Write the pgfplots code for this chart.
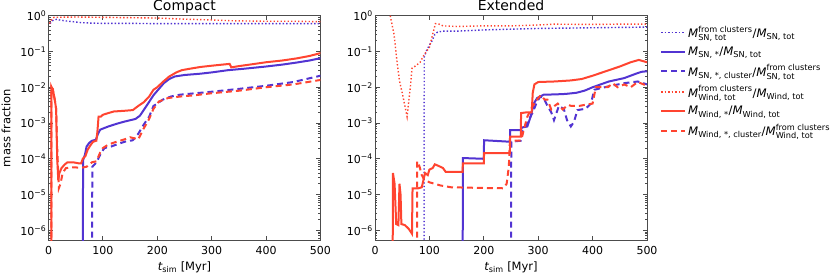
\documentclass[border=0pt]{standalone}
\usepackage{fontspec}
\setmainfont{DejaVu Sans}
\usepackage{amsmath}
\usepackage{pgfplots}
\pgfplotsset{compat=1.18}
\definecolor{cblue}{RGB}{82,52,210}
\definecolor{cred}{RGB}{255,68,48}
\newcommand{\Mi}{\textit{M}}
\pgfplotsset{every axis title/.style={font=\fontsize{14}{16}\selectfont, at={(axis description cs:0.5,1.021)}, anchor=base}}
\tikzset{
  sdot/.style={line width=1.4pt, dash pattern=on 1.4pt off 2.1pt},
  ssol/.style={line width=2pt},
  sdash/.style={line width=2pt, dash pattern=on 6pt off 4pt},
}
\begin{document}
\begin{tikzpicture}
\useasboundingbox (0,0) rectangle (830pt,273pt);
% ---------------- Compact ----------------
\begin{axis}[at={(48.5pt,32.5pt)}, anchor=south west, title={Compact},
    scale only axis, width=272pt, height=224.8pt,
    ymode=log, xmin=0, xmax=500, ymin=5.2e-7, ymax=1,
    xtick={0,100,200,300,400,500},
    ytick={1e-6,1e-5,1e-4,1e-3,1e-2,1e-1,1},
    yticklabels={10\textsuperscript{−6},10\textsuperscript{−5},10\textsuperscript{−4},10\textsuperscript{−3},10\textsuperscript{−2},10\textsuperscript{−1},10\textsuperscript{0}},
    minor ytick={6e-7,7e-7,8e-7,9e-7,2e-6,3e-6,4e-6,5e-6,6e-6,7e-6,8e-6,9e-6,2e-5,3e-5,4e-5,5e-5,6e-5,7e-5,8e-5,9e-5,2e-4,3e-4,4e-4,5e-4,6e-4,7e-4,8e-4,9e-4,2e-3,3e-3,4e-3,5e-3,6e-3,7e-3,8e-3,9e-3,2e-2,3e-2,4e-2,5e-2,6e-2,7e-2,8e-2,9e-2,2e-1,3e-1,4e-1,5e-1,6e-1,7e-1,8e-1,9e-1},
    tick align=inside,
    major tick length=4.5pt, minor tick length=2.3pt,
    axis line style={black!70, line width=1pt},
    tick style={black!70, line width=0.8pt},
    /pgf/number format/assume math mode=true,
    tick label style={font=\fontsize{11}{13}\selectfont},
    xticklabel style={anchor=base, yshift=-13.5pt},
    yticklabel style={anchor=east, inner sep=0pt, xshift=-2pt},
    label style={font=\fontsize{11.5}{13}\selectfont},
    xlabel={$\textit{t}_{\text{sim}}$ [Myr]},
    xlabel style={at={(axis description cs:0.5,-0.118)}, anchor=center},
    ylabel={mass fraction},
    ylabel style={at={(axis description cs:-0.156,0.5)}, anchor=center}]
\addplot[cblue, sdot] coordinates {(3,0.6) (6,0.7) (10,0.77) (15,0.79) (20,0.76) (30,0.72) (45,0.68) (60,0.64) (80,0.62) (100,0.61) (150,0.61) (200,0.6) (250,0.6) (300,0.6) (350,0.6) (400,0.6) (450,0.6) (500,0.6)};
\addplot[cblue, ssol] coordinates {(63,1e-9) (63.5,9e-5) (67,1.3e-4) (70,2.2e-4) (75,2.8e-4) (80,3.2e-4) (87,3.4e-4) (91,5e-4) (95,6.5e-4) (100,7e-4) (110,8e-4) (125,9.5e-4) (140,1.1e-3) (160,1.3e-3) (168,1.6e-3) (175,2.3e-3) (183,3.5e-3) (193,6e-3) (203,9e-3) (212,1.3e-2) (222,1.7e-2) (232,2e-2) (250,2.2e-2) (280,2.4e-2) (300,2.6e-2) (330,3e-2) (360,3.3e-2) (400,3.8e-2) (430,4.3e-2) (456,4.9e-2) (480,5.6e-2) (500,6.5e-2)};
\addplot[cblue, sdash] coordinates {(80,1e-9) (80.5,6e-5) (85,7e-5) (90,9e-5) (97,1.5e-4) (103,2e-4) (115,2.2e-4) (125,2.5e-4) (140,3e-4) (155,3.3e-4) (165,5e-4) (175,9e-4) (185,1.5e-3) (193,3e-3) (200,3.5e-3) (210,4.5e-3) (225,5.5e-3) (242,6.2e-3) (270,6.8e-3) (300,7.5e-3) (350,9e-3) (400,1.1e-2) (450,1.4e-2) (500,2.1e-2)};
\addplot[cred, sdot] coordinates {(2,0.6) (6,0.8) (10,0.9) (50,0.92) (100,0.9) (150,0.88) (200,0.86) (250,0.8) (300,0.76) (340,0.72) (400,0.7) (450,0.7) (500,0.68)};
\addplot[cred, ssol] coordinates {(5,1e-9) (5.5,1e-2) (8,9e-3) (10,6e-3) (12,4e-3) (14,2.5e-3) (16,1e-4) (18,2.5e-5) (20,4e-5) (24,5.5e-5) (30,7e-5) (35,8e-5) (45,8e-5) (55,7.5e-5) (60,7.5e-5) (63,1e-4) (68,1.2e-4) (72,1.8e-4) (78,2.5e-4) (82,3e-4) (88,3.2e-4) (90,6e-4) (92,1.5e-3) (96,1.5e-3) (100,1.7e-3) (110,1.9e-3) (120,2.1e-3) (140,2.2e-3) (155,2.3e-3) (165,3e-3) (175,3.8e-3) (185,5.5e-3) (193,8.5e-3) (200,1e-2) (210,1.4e-2) (222,2e-2) (235,2.6e-2) (245,3e-2) (260,3.3e-2) (280,3.7e-2) (300,4e-2) (320,4.3e-2) (333,4.5e-2) (336,3.6e-2) (350,3.9e-2) (370,4.3e-2) (400,5e-2) (430,5.6e-2) (456,6.4e-2) (480,7.5e-2) (500,9e-2)};
\addplot[cred, sdash] coordinates {(5,1e-9) (5.5,1e-2) (8,8e-3) (11,5e-3) (14,2.5e-3) (16,2e-4) (19,1.5e-5) (22,2e-5) (26,4e-5) (32,5.5e-5) (45,5.8e-5) (60,5.6e-5) (70,6e-5) (80,8e-5) (88,8.5e-5) (95,1.5e-4) (100,2e-4) (110,2.5e-4) (125,3e-4) (140,3.5e-4) (150,4e-4) (165,3.5e-4) (175,7e-4) (185,1.3e-3) (193,2.5e-3) (203,4e-3) (220,5e-3) (242,5.5e-3) (270,6e-3) (300,6.8e-3) (350,8e-3) (400,1e-2) (450,1.2e-2) (500,1.6e-2)};
\end{axis}
% ---------------- Extended ----------------
\begin{axis}[at={(375pt,32.5pt)}, anchor=south west, title={Extended},
    scale only axis, width=272pt, height=224.8pt,
    ymode=log, xmin=0, xmax=500, ymin=5.2e-7, ymax=1,
    xtick={0,100,200,300,400,500},
    ytick={1e-6,1e-5,1e-4,1e-3,1e-2,1e-1,1},
    yticklabels={10\textsuperscript{−6},10\textsuperscript{−5},10\textsuperscript{−4},10\textsuperscript{−3},10\textsuperscript{−2},10\textsuperscript{−1},10\textsuperscript{0}},
    minor ytick={6e-7,7e-7,8e-7,9e-7,2e-6,3e-6,4e-6,5e-6,6e-6,7e-6,8e-6,9e-6,2e-5,3e-5,4e-5,5e-5,6e-5,7e-5,8e-5,9e-5,2e-4,3e-4,4e-4,5e-4,6e-4,7e-4,8e-4,9e-4,2e-3,3e-3,4e-3,5e-3,6e-3,7e-3,8e-3,9e-3,2e-2,3e-2,4e-2,5e-2,6e-2,7e-2,8e-2,9e-2,2e-1,3e-1,4e-1,5e-1,6e-1,7e-1,8e-1,9e-1},
    tick align=inside,
    major tick length=4.5pt, minor tick length=2.3pt,
    axis line style={black!70, line width=1pt},
    tick style={black!70, line width=0.8pt},
    /pgf/number format/assume math mode=true,
    tick label style={font=\fontsize{11}{13}\selectfont},
    xticklabel style={anchor=base, yshift=-13.5pt},
    yticklabel style={anchor=east, inner sep=0pt, xshift=-2pt},
    label style={font=\fontsize{11.5}{13}\selectfont},
    xlabel={$\textit{t}_{\text{sim}}$ [Myr]},
    xlabel style={at={(axis description cs:0.5,-0.118)}, anchor=center},
    legend cell align=left,
    legend image code/.code={\draw[#1] (0pt,0pt) -- (17pt,0pt); \path (0pt,0pt) -- (24pt,0pt);},
    legend style={draw=none, fill=none, at={(axis description cs:1,1)}, anchor=north west,
      xshift=11pt, yshift=-6pt, font=\fontsize{11.7}{14}\selectfont, row sep=3.8pt,
      inner sep=2pt}]
\addplot[cblue, sdot] coordinates {(90,1e-9) (90.5,0.07) (94,0.1) (100,0.15) (105,0.2) (110,0.3) (115,0.35) (125,0.37) (150,0.37) (200,0.4) (250,0.42) (300,0.44) (350,0.45) (400,0.46) (450,0.47) (500,0.48)};
\addlegendentry{$\Mi^{\text{from clusters}}_{\text{SN, tot}}\text{/}\Mi_{\text{SN, tot}}$}
\addplot[cblue, ssol] coordinates {(161,1e-9) (161.5,1.05e-4) (200,1e-4) (200.5,3.3e-4) (248,3e-4) (248.5,6.3e-4) (268,6.3e-4) (270,7.5e-4) (280,8e-4) (286,1.5e-3) (292,3.5e-3) (298,5e-3) (310,6.2e-3) (330,6.3e-3) (350,6.5e-3) (370,7e-3) (385,8e-3) (400,1e-2) (430,1.45e-2) (458,1.8e-2) (480,2.4e-2) (490,2.7e-2) (500,2.8e-2)};
\addlegendentry{$\Mi_{\text{SN, *}}\text{/}\Mi_{\text{SN, tot}}$}
\addplot[cblue, sdash] coordinates {(250,1e-9) (250.5,3e-4) (268,3.2e-4) (272,6e-4) (280,1e-3) (290,2e-3) (298,4e-3) (304,5.5e-3) (310,5e-3) (317,3e-3) (324,2e-3) (329,1.2e-3) (338,3e-3) (347,2.5e-3) (353,1.2e-3) (360,8e-4) (366,1.1e-3) (372,2.3e-3) (387,2.5e-3) (397,3.5e-3) (403,8.5e-3) (428,1.05e-2) (458,1.3e-2) (483,1.45e-2) (500,1.2e-2)};
\addlegendentry{$\Mi_{\text{SN, *, cluster}}\text{/}\Mi^{\text{from clusters}}_{\text{SN, tot}}$}
\addplot[cred, sdot] coordinates {(28,1.0) (35,0.3) (40,0.06) (45,0.015) (50,7e-3) (55,3e-3) (59,1.5e-3) (62,4e-3) (65,1e-2) (68,3.4e-2) (75,4e-2) (83,5e-2) (90,8e-2) (100,0.13) (106,0.3) (111,0.6) (118,0.58) (125,0.52) (150,0.5) (200,0.52) (250,0.52) (300,0.55) (330,0.58) (400,0.57) (450,0.58) (500,0.58)};
\addlegendentry{$\Mi^{\text{from clusters}}_{\text{Wind, tot}}\text{/}\Mi_{\text{Wind, tot}}$}
\addplot[cred, ssol] coordinates {(32,1e-9) (33,4e-5) (36,2e-5) (39,1.5e-6) (43,1.4e-6) (45,2e-5) (47,1e-5) (48.5,1.5e-6) (55,1.4e-6) (62,1.1e-6) (68,8e-7) (69,1.5e-5) (80,1.5e-5) (86,1.6e-5) (92,4e-5) (97,3.5e-5) (100,5e-5) (106,5.5e-5) (110,7e-5) (115,6.5e-5) (120,6e-5) (125,5.5e-5) (130,4.3e-5) (161,4.3e-5) (161.5,7.5e-5) (200,7.5e-5) (200.5,1.45e-4) (248,1.45e-4) (248.5,4.2e-4) (268,4.2e-4) (268.5,1.9e-3) (280,2e-3) (288,2e-3) (290,7e-3) (293,1.2e-2) (300,1.4e-2) (330,1.45e-2) (360,1.55e-2) (380,1.7e-2) (400,2.1e-2) (430,3e-2) (450,3.8e-2) (470,5e-2) (485,5.8e-2) (500,5e-2)};
\addlegendentry{$\Mi_{\text{Wind, *}}\text{/}\Mi_{\text{Wind, tot}}$}
\addplot[cred, sdash] coordinates {(77,1e-9) (77.5,8.5e-5) (82,6e-5) (86,3.5e-5) (90,2.7e-5) (100,2.2e-5) (110,2e-5) (120,1.8e-5) (140,1.6e-5) (180,1.55e-5) (236,1.5e-5) (242,2e-5) (246,6e-5) (248,3.2e-4) (268,3.2e-4) (270,4e-4) (280,1.5e-3) (290,3e-3) (300,5e-3) (305,6e-3) (312,4.5e-3) (317,4.5e-3) (324,2.4e-3) (330,3e-3) (336,3.5e-3) (345,2.4e-3) (355,3.2e-3) (361,3e-3) (375,3e-3) (385,3.2e-3) (400,3.5e-3) (406,1e-2) (428,1e-2) (437,1.3e-2) (446,1e-2) (458,1.2e-2) (470,1e-2) (483,1.4e-2) (500,1.1e-2)};
\addlegendentry{$\Mi_{\text{Wind, *, cluster}}\text{/}\Mi^{\text{from clusters}}_{\text{Wind, tot}}$}
\end{axis}
\end{tikzpicture}
\end{document}
